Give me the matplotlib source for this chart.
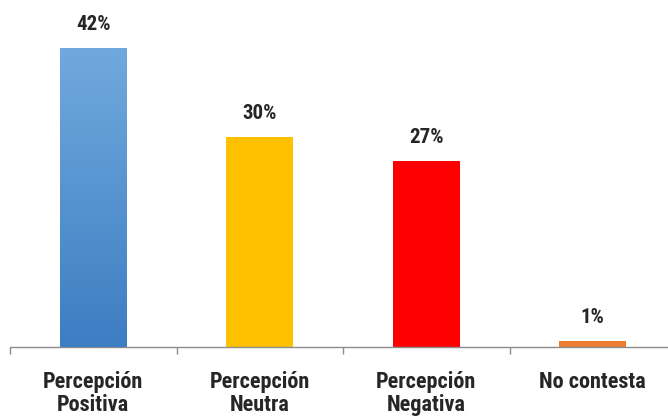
import numpy as np
import matplotlib.pyplot as plt
from matplotlib.colors import LinearSegmentedColormap

categories = ["Percepción\nPositiva", "Percepción\nNeutra", "Percepción\nNegativa", "No contesta"]
values = [42, 29.6, 26.2, 0.9]
labels = ["42%", "30%", "27%", "1%"]
colors = ["#5b9bd5", "#ffc000", "#ff0000", "#ed7d31"]

plt.rcParams['font.family'] = ['Roboto Condensed', 'DejaVu Sans']

fig = plt.figure(figsize=(6.68, 4.19), dpi=100)
ax = fig.add_axes([10 / 668, 72 / 419, 666 / 668, 320 / 419])

x = np.arange(len(categories))
w = 0.4
bars = ax.bar(x, values, width=w, color=colors, zorder=2)

# gradient for first bar
blue = LinearSegmentedColormap.from_list("bl", ["#3d7dc2", "#70a9dd"])
b0 = bars[0]
grad = np.linspace(0, 1, 256).reshape(-1, 1)
im = ax.imshow(grad, cmap=blue, origin="lower", aspect="auto",
               extent=[b0.get_x(), b0.get_x() + w, 0, values[0]], zorder=3)
im.set_clip_path(b0)

for xi, v, lab in zip(x, values, labels):
    ax.annotate(lab, (xi, v), xytext=(0, 10), textcoords="offset points",
                ha="center", va="bottom", fontsize=15, fontweight="bold", color="#262626")

ax.set_xlim(-0.5, 3.5)
ax.set_ylim(0, 45)
ax.set_xticks(x)
ax.set_xticklabels(categories, fontsize=16, fontweight="bold", color="#262626", linespacing=1.08)
ax.set_xticks(np.arange(-0.5, 4, 1), minor=True)
ax.tick_params(axis="x", which="major", length=0, pad=17)
ax.tick_params(axis="x", which="minor", length=5, color="#8c8c8c", width=1)
ax.set_yticks([])
for s in ["top", "right", "left"]:
    ax.spines[s].set_visible(False)
ax.spines["bottom"].set_color("#8c8c8c")
ax.spines["bottom"].set_linewidth(1)

fig.savefig("out.png", dpi=100)
